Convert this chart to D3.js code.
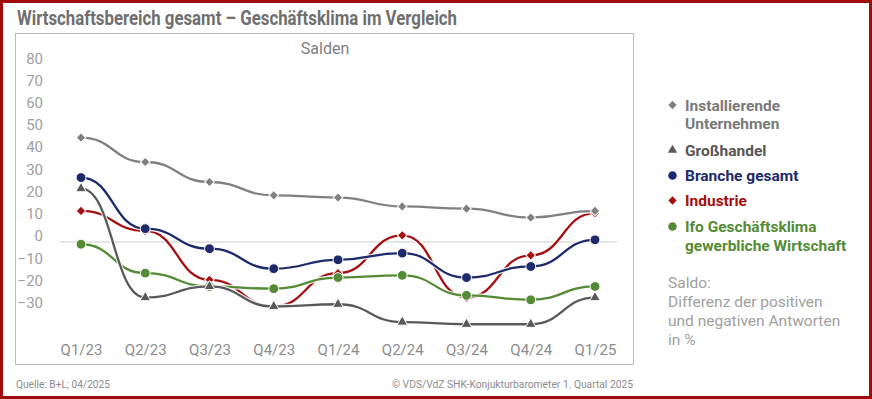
<!DOCTYPE html>
<html>
<head>
<meta charset="utf-8">
<script src="https://cdn.jsdelivr.net/npm/d3@7"></script>
<style>
  body { margin: 0; background: #fff; }
  svg { display: block; font-family: Roboto, "Noto Sans", sans-serif; }
</style>
</head>
<body>
<div id="chart"></div>
<script>
// Werte (Salden)
const quarters = ["Q1/23", "Q2/23", "Q3/23", "Q4/23", "Q1/24", "Q2/24", "Q3/24", "Q4/24", "Q1/25"];
const installierende = [47, 36, 27, 21, 20, 16, 15, 11, 14];
const grosshandel = [24, -25, -20, -29, -28, -36, -37, -37, -25];
const brancheGesamt = [29, 6, -3, -12, -8, -5, -16, -11, 1];
const industrie = [14, 5, -17, -29, -14, 3, -25, -6, 13];
const ifoKlima = [-1, -14, -20, -21, -16, -15, -24, -26, -20];
const yTicks = [80, 70, 60, 50, 40, 30, 20, 10, 0, -10, -20, -30];

const seriesNames = ["Installierende Unternehmen", "Großhandel", "Branche gesamt", "Industrie", "Ifo Geschäftsklima gewerbliche Wirtschaft"];

const W = 872, H = 399;

const series = [
    { name: seriesNames[3], values: industrie, color: "#a50f0f", symbol: "diamond" },
    { name: seriesNames[4], values: ifoKlima, color: "#558b35", symbol: "circle" },
    { name: seriesNames[2], values: brancheGesamt, color: "#1d2a6c", symbol: "circle" },
    { name: seriesNames[1], values: grosshandel, color: "#595959", symbol: "triangle" },
    { name: seriesNames[0], values: installierende, color: "#808080", symbol: "diamond" }
];

const svg = d3.select("#chart").append("svg")
    .attr("width", W)
    .attr("height", H);

svg.append("rect")
    .attr("width", W).attr("height", H)
    .attr("fill", "#fff");

// roter Rahmen
svg.append("rect")
    .attr("x", 1.5).attr("y", 1.5)
    .attr("width", W - 3).attr("height", H - 3)
    .attr("fill", "none")
    .attr("stroke", "#a10d0d")
    .attr("stroke-width", 3);

svg.append("text")
    .attr("x", 17).attr("y", 25)
    .attr("font-size", 20)
    .attr("font-weight", 700)
    .attr("fill", "#6f6f6f")
    .attr("textLength", 440)
    .attr("lengthAdjust", "spacingAndGlyphs")
    .text("Wirtschaftsbereich gesamt – Geschäftsklima im Vergleich");

// Plotfläche
svg.append("rect")
    .attr("x", 15.5).attr("y", 33.5)
    .attr("width", 618).attr("height", 331)
    .attr("fill", "#fff")
    .attr("stroke", "#bcbcbc")
    .attr("stroke-width", 1);

svg.append("text")
    .attr("x", 325).attr("y", 54)
    .attr("text-anchor", "middle")
    .attr("font-size", 16)
    .attr("fill", "#7f7f7f")
    .text("Salden");

const x = d3.scalePoint()
    .domain(quarters)
    .range([81, 595]);

const y = d3.scaleLinear()
    .domain([-30, 80])
    .range([308.7, 64.2]);

// Nulllinie
svg.append("line")
    .attr("x1", 60).attr("x2", 617)
    .attr("y1", y(0)).attr("y2", y(0))
    .attr("stroke", "#dcdcdc")
    .attr("stroke-width", 1.5);

const yAxis = svg.append("g")
    .attr("transform", "translate(43,0)")
    .call(d3.axisLeft(y).tickValues(yTicks).tickSize(0).tickPadding(0).tickFormat(d3.format("d")));
yAxis.select(".domain").remove();
yAxis.selectAll("text")
    .attr("transform", "translate(0,-6)")
    .attr("font-size", 15)
    .attr("font-family", "Roboto, sans-serif")
    .attr("fill", "#a0a0a0");

const xAxis = svg.append("g")
    .attr("transform", "translate(0,340)")
    .call(d3.axisBottom(x).tickSize(0).tickPadding(4));
xAxis.select(".domain").remove();
xAxis.selectAll("text")
    .attr("font-size", 15)
    .attr("font-family", "Roboto, sans-serif")
    .attr("fill", "#8c8c8c");

const line = d3.line()
    .x((d, i) => x(quarters[i]))
    .y(d => y(d))
    .curve(d3.curveBumpX);

function symbolPath(type, scale) {
    if (type === "circle") return d3.symbol(d3.symbolCircle, 76 * scale)();
    if (type === "triangle") return d3.symbol(d3.symbolTriangle, 50 * scale)();
    return d3.symbol(d3.symbolSquare, 46 * scale)();
}

series.forEach(s => {
    const g = svg.append("g");
    g.append("path")
        .attr("d", line(s.values))
        .attr("fill", "none")
        .attr("stroke", "#fff")
        .attr("stroke-width", 4.5)
        .attr("stroke-opacity", 0.9);
    g.append("path")
        .attr("d", line(s.values))
        .attr("fill", "none")
        .attr("stroke", s.color)
        .attr("stroke-width", 2.3);
    g.selectAll(".pt")
        .data(s.values)
        .enter().append("path")
        .attr("class", "pt")
        .attr("d", symbolPath(s.symbol, 1))
        .attr("transform", (d, i) => `translate(${x(quarters[i])},${y(d)})` + (s.symbol === "diamond" ? " rotate(45)" : ""))
        .attr("fill", s.color)
        .attr("stroke", "#fff")
        .attr("stroke-width", 1);
});

// Legende
const legend = [
    { lines: ["Installierende", "Unternehmen"], y: 105, color: "#7a7a7a", symbol: "diamond", mcolor: "#808080" },
    { lines: ["Großhandel"], y: 150, color: "#555555", symbol: "triangle", mcolor: "#595959" },
    { lines: ["Branche gesamt"], y: 175.5, color: "#1d2a6c", symbol: "circle", mcolor: "#1d2a6c" },
    { lines: ["Industrie"], y: 200.5, color: "#a50f0f", symbol: "diamond", mcolor: "#a50f0f" },
    { lines: ["Ifo Geschäftsklima", "gewerbliche Wirtschaft"], y: 226.5, color: "#558b35", symbol: "circle", mcolor: "#558b35" }
];

legend.forEach(l => {
    svg.append("path")
        .attr("d", symbolPath(l.symbol, 0.75))
        .attr("transform", `translate(672.5,${l.y})` + (l.symbol === "diamond" ? " rotate(45)" : ""))
        .attr("fill", l.mcolor);
    l.lines.forEach((t, i) => {
        svg.append("text")
            .attr("x", 685)
            .attr("y", l.y + i * 18.5)
            .attr("dy", "0.36em")
            .attr("font-size", 15.5)
            .attr("font-weight", 700)
            .attr("fill", l.color)
            .text(t);
    });
});

const note = ["Saldo:", "Differenz der positiven", "und negativen Antworten", "in %"];
note.forEach((t, i) => {
    svg.append("text")
        .attr("x", 668)
        .attr("y", 282.5 + i * 19)
        .attr("dy", "0.36em")
        .attr("font-size", 15.5)
        .attr("fill", "#a0a0a0")
        .text(t);
});

// Fußzeile
svg.append("text")
    .attr("x", 16).attr("y", 388)
    .attr("font-size", 11.5)
    .attr("fill", "#8c8c8c")
    .attr("textLength", 94)
    .attr("lengthAdjust", "spacingAndGlyphs")
    .text("Quelle: B+L; 04/2025");

svg.append("text")
    .attr("x", 392).attr("y", 388)
    .attr("font-size", 11.5)
    .attr("fill", "#8c8c8c")
    .attr("textLength", 241)
    .attr("lengthAdjust", "spacingAndGlyphs")
    .text("© VDS/VdZ SHK-Konjukturbarometer 1. Quartal 2025");
</script>
</body>
</html>
